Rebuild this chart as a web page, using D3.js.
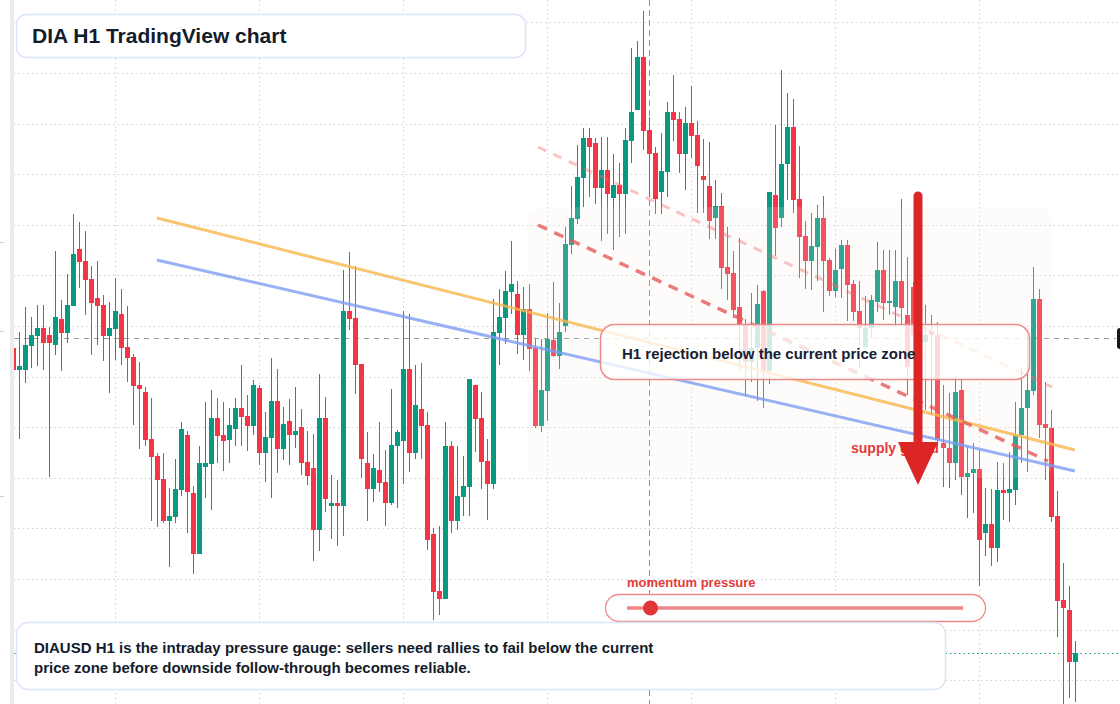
<!DOCTYPE html>
<html>
<head>
<meta charset="utf-8">
<script src="https://cdn.jsdelivr.net/npm/d3@7"></script>
<style>
  html, body { margin: 0; padding: 0; background: #fff; }
  svg { display: block; font-family: "Liberation Sans", Arial, sans-serif; }
</style>
</head>
<body>
<div id="container"></div>
<script>
// DIA hourly candles (oldest -> newest)
var opens = [
  422.6, 421.5, 421.5, 422.7, 423.2, 423.6, 423.25, 422.75, 424.05, 423.35,
  424.7, 427.55, 426.95, 426.05, 425.1, 424.75, 423.2, 423.55, 424.3, 422.65,
  422.15, 420.75, 420.4, 418.05, 417.2, 416.05, 413.95, 414.15, 415.5, 418.25,
  415.35, 412.3, 416.65, 416.8, 419.1, 418.25, 418.0, 418.55, 419.6, 419.2,
  418.7, 420.6, 417.35, 418.1, 419.95, 417.55, 418.95, 418.25, 418.65, 416.9,
  416.6, 413.5, 419.1, 414.7, 414.85, 414.7, 424.45, 424.1, 421.8, 416.85,
  415.55, 416.5, 415.9, 414.85, 417.7, 417.95, 421.55, 417.35, 419.55, 418.75,
  413.3, 410.45, 410.05, 417.7, 413.95, 415.15, 415.65, 420.75, 419.1, 416.95,
  415.8, 423.35, 424.1, 425.4, 425.3, 423.25, 424.55, 422.6, 418.7, 420.45,
  423.0, 422.2, 423.7, 427.75, 429.05, 431.1, 433.1, 432.85, 430.6, 431.5,
  430.1, 430.75, 430.3, 432.95, 434.5, 437.15, 433.5, 432.35, 430.4, 431.4,
  434.4, 434.05, 432.3, 433.85, 433.25, 431.2, 430.7, 429.1, 429.7, 426.65,
  426.35, 424.65, 423.75, 421.9, 422.6, 425.45, 421.45, 430.25, 429.1, 431.8,
  433.65, 430.05, 428.2, 426.95, 427.65, 429.1, 427.0, 425.45, 426.55, 427.75,
  425.8, 424.45, 422.65, 423.6, 424.9, 426.5, 424.85, 424.65, 425.95, 424.25,
  425.65, 423.0, 422.9, 423.45, 423.25, 417.85, 417.6, 416.85, 420.5, 416.15,
  416.35, 416.55, 413.35, 413.8, 412.6, 415.5, 415.35, 415.5, 418.25, 419.6,
  420.45, 425.05, 418.8, 418.6, 414.2, 410.0, 409.5, 406.9
];
var highs = [
  422.75, 423.4, 424.65, 424.15, 424.75, 424.75, 423.65, 427.45, 425.0, 426.3,
  429.3, 428.9, 428.45, 426.7, 426.95, 425.25, 424.9, 426.1, 425.55, 424.7,
  422.3, 421.9, 420.65, 420.1, 417.35, 417.35, 415.6, 417.05, 418.9, 418.45,
  415.7, 417.7, 419.9, 420.5, 420.1, 419.9, 419.6, 420.1, 421.75, 420.25,
  421.0, 420.75, 419.4, 422.1, 421.55, 419.65, 420.05, 420.65, 419.55, 418.45,
  418.3, 421.3, 420.15, 416.25, 416.0, 426.5, 427.4, 426.7, 421.8, 418.4,
  417.3, 418.9, 417.5, 420.55, 418.5, 424.45, 424.3, 421.75, 421.85, 419.4,
  413.6, 413.7, 418.9, 417.95, 417.7, 417.2, 421.05, 420.75, 420.4, 418.05,
  425.05, 425.55, 426.45, 427.95, 425.95, 425.65, 425.8, 423.1, 423.05, 424.35,
  425.9, 424.85, 428.65, 430.7, 432.75, 433.6, 433.6, 433.1, 433.15, 433.15,
  432.3, 431.85, 433.6, 437.6, 437.95, 439.45, 434.15, 432.65, 433.35, 434.9,
  436.25, 434.4, 434.65, 435.7, 433.95, 433.05, 432.9, 431.0, 430.35, 428.65,
  427.45, 428.1, 424.05, 425.35, 425.75, 425.5, 430.4, 433.75, 436.5, 435.35,
  435.05, 432.7, 428.95, 429.35, 429.75, 430.2, 427.1, 427.55, 428.0, 428.0,
  426.0, 425.95, 425.2, 425.25, 427.9, 427.5, 427.5, 427.5, 430.05, 427.15,
  425.9, 424.75, 424.75, 424.25, 423.9, 420.75, 420.35, 421.25, 421.0, 417.65,
  417.85, 417.5, 415.6, 415.55, 416.9, 416.85, 417.4, 419.9, 421.6, 423.25,
  426.65, 425.55, 420.9, 419.5, 415.45, 411.85, 410.7, 407.95
];
var lows = [
  421.4, 418.05, 420.85, 421.6, 421.7, 421.5, 416.15, 422.25, 421.45, 422.85,
  424.7, 425.6, 424.25, 422.25, 422.75, 421.95, 420.35, 422.0, 421.75, 420.9,
  418.75, 417.55, 417.7, 413.95, 413.65, 413.85, 411.65, 413.85, 415.2, 413.35,
  411.3, 412.3, 415.1, 414.5, 416.85, 416.45, 416.85, 417.7, 417.7, 417.45,
  418.25, 416.75, 415.9, 415.1, 416.35, 417.0, 416.75, 417.6, 416.25, 415.75,
  411.95, 412.45, 414.4, 413.05, 412.7, 413.2, 423.5, 420.3, 416.1, 413.95,
  414.9, 415.4, 413.7, 414.75, 414.6, 415.8, 416.4, 417.05, 417.05, 412.5,
  409.0, 409.25, 410.05, 413.35, 413.5, 414.2, 414.2, 417.4, 415.55, 414.0,
  415.55, 421.75, 422.8, 424.3, 422.3, 422.0, 421.45, 418.6, 418.4, 418.95,
  422.15, 421.55, 423.4, 427.3, 428.8, 429.65, 430.15, 429.8, 427.95, 428.3,
  427.5, 428.15, 428.3, 431.85, 434.5, 432.5, 430.15, 429.3, 429.3, 430.15,
  432.95, 431.35, 430.5, 432.1, 429.35, 429.35, 428.05, 428.05, 425.55, 425.0,
  424.1, 421.5, 420.2, 420.9, 419.95, 419.6, 420.8, 427.2, 428.65, 430.0,
  429.35, 426.1, 425.55, 425.5, 425.95, 424.4, 425.2, 425.15, 425.1, 423.95,
  423.95, 421.6, 422.5, 423.1, 424.4, 424.0, 424.25, 423.65, 423.65, 420.25,
  421.9, 421.75, 419.5, 419.25, 417.65, 415.65, 415.6, 416.0, 415.25, 414.1,
  414.35, 410.7, 412.2, 411.7, 411.9, 414.0, 413.9, 414.75, 416.85, 416.4,
  420.25, 418.1, 416.0, 413.9, 408.15, 404.8, 405.1, 404.9
];
var closes = [
  421.5, 421.7, 422.75, 423.25, 423.6, 422.85, 422.85, 424.15, 423.35, 424.75,
  427.3, 426.9, 426.0, 424.85, 424.7, 423.2, 423.6, 424.45, 422.6, 422.1,
  420.7, 420.55, 418.0, 417.15, 416.0, 413.95, 414.2, 415.55, 418.55, 415.4,
  412.3, 416.85, 416.85, 419.1, 418.2, 417.95, 418.75, 419.6, 419.15, 418.7,
  420.75, 417.35, 418.15, 419.95, 417.55, 418.8, 418.25, 418.45, 416.85, 416.2,
  413.5, 419.1, 415.05, 414.85, 414.7, 424.45, 424.05, 421.75, 417.05, 415.55,
  416.6, 415.85, 414.85, 417.75, 418.4, 421.55, 417.35, 419.75, 418.7, 413.0,
  410.4, 410.05, 417.7, 413.95, 415.2, 415.7, 421.05, 419.05, 416.9, 415.8,
  423.4, 424.15, 425.45, 425.8, 423.25, 424.55, 422.55, 418.7, 420.5, 423.05,
  422.2, 423.4, 427.8, 429.1, 431.15, 433.1, 432.65, 430.6, 431.5, 430.3,
  430.75, 430.3, 433.0, 434.4, 437.15, 433.45, 432.3, 430.05, 431.45, 434.4,
  434.0, 432.3, 433.85, 433.2, 431.7, 431.0, 428.95, 429.7, 426.6, 426.3,
  424.5, 423.75, 421.9, 422.6, 424.8, 421.45, 430.4, 428.6, 431.8, 433.65,
  430.0, 428.15, 426.95, 427.7, 429.1, 426.95, 425.45, 426.5, 427.75, 425.75,
  424.4, 423.6, 423.6, 425.0, 426.5, 424.85, 424.95, 425.95, 424.6, 421.65,
  423.25, 423.5, 423.25, 423.25, 418.0, 417.6, 416.85, 420.4, 416.15, 416.35,
  416.55, 413.0, 413.8, 412.6, 415.5, 415.35, 415.55, 418.25, 419.6, 420.5,
  425.05, 418.75, 418.6, 414.15, 409.95, 409.6, 406.9, 407.35
];

// grid levels (price) and vertical grid positions (bar index)
var gridLevels = [405.99, 408.52, 411.05, 413.58, 416.11, 418.64, 421.17, 423.70, 426.23, 428.76, 431.29, 433.82, 436.35, 438.88];
var timeGrid = [16.9, 40.9, 64.9, 88.9, 112.9, 136.9, 160.9];

// drawings, as [bar index, price]
var orangeTrend = [[23.9, 429.1], [176.9, 417.5]];
var blueTrend = [[23.9, 427.0], [176.9, 416.45]];
var upperDash = [[87.4, 432.65], [173.1, 420.65]];
var lowerDash = [[87.4, 428.75], [172.4, 416.95]];
var zoneBars = [85.5, 173.1];
var zonePrices = [416.1, 429.65];
var crossBar = 106, crossPrice = 423.1;
var lastPrice = 407.35;
var arrowBar = 150.75, arrowFrom = 430.2, arrowTo = 415.75;
var momentum = 0.07;

var W = 1120, H = 704;
var UP = '#089981', DOWN = '#f23645';

var svg = d3.select('#container').append('svg')
  .attr('width', W)
  .attr('height', H);

var x = d3.scaleLinear().domain([0, opens.length - 1]).range([13.5, 1075.5]);
var y = d3.scaleLinear().domain([404.8, 440]).range([H, 0]);

var candles = opens.map(function(o, i) {
  return { i: i, o: o, h: highs[i], l: lows[i], c: closes[i] };
});

svg.append('rect').attr('width', W).attr('height', H).attr('fill', '#fff');
svg.append('rect').attr('x', 10).attr('y', 0).attr('width', 4).attr('height', H).attr('fill', '#ebebeb');

// leftover axis ticks at the very left
[242, 331, 496].forEach(function(t) {
  svg.append('line').attr('x1', 0).attr('x2', 4).attr('y1', t + 0.5).attr('y2', t + 0.5)
    .attr('stroke', '#cfcfcf');
});

svg.append('clipPath').attr('id', 'plot')
  .append('rect').attr('x', 14).attr('y', 0).attr('width', W - 14).attr('height', H);

var plot = svg.append('g').attr('clip-path', 'url(#plot)');

// dotted grid
plot.selectAll('.hgrid')
  .data(gridLevels)
  .enter()
  .append('line')
  .attr('class', 'hgrid')
  .attr('x1', 14).attr('x2', W)
  .attr('y1', function(d) { return Math.round(y(d)) + 0.5; })
  .attr('y2', function(d) { return Math.round(y(d)) + 0.5; })
  .attr('stroke', '#cdd1d6')
  .attr('stroke-dasharray', '1.5,3');

plot.selectAll('.vgrid')
  .data(timeGrid)
  .enter()
  .append('line')
  .attr('class', 'vgrid')
  .attr('y1', 0).attr('y2', H)
  .attr('x1', function(d) { return Math.round(x(d)) + 0.5; })
  .attr('x2', function(d) { return Math.round(x(d)) + 0.5; })
  .attr('stroke', '#cdd1d6')
  .attr('stroke-dasharray', '1.5,3');

// crosshair
plot.append('line')
  .attr('x1', Math.floor(x(crossBar)) + 0.5).attr('x2', Math.floor(x(crossBar)) + 0.5)
  .attr('y1', 0).attr('y2', H)
  .attr('stroke', '#8f8f8f')
  .attr('stroke-dasharray', '6,4');
plot.append('line')
  .attr('x1', 14).attr('x2', 1116)
  .attr('y1', Math.round(y(crossPrice)) + 0.5).attr('y2', Math.round(y(crossPrice)) + 0.5)
  .attr('stroke', '#9a9a9a')
  .attr('stroke-dasharray', '5,5');

// last price line
plot.append('line')
  .attr('x1', 14).attr('x2', W)
  .attr('y1', Math.round(y(lastPrice)) + 0.5).attr('y2', Math.round(y(lastPrice)) + 0.5)
  .attr('stroke', UP)
  .attr('stroke-dasharray', '1.5,3');

// candles
var bars = plot.selectAll('.candle')
  .data(candles)
  .enter()
  .append('g')
  .attr('class', 'candle');

bars.append('line')
  .attr('x1', function(d) { return x(d.i); })
  .attr('x2', function(d) { return x(d.i); })
  .attr('y1', function(d) { return y(d.h); })
  .attr('y2', function(d) { return y(d.l); })
  .attr('stroke', function(d) { return d.c >= d.o ? UP : DOWN; })
  .attr('stroke-width', 1);

bars.append('rect')
  .attr('x', function(d) { return x(d.i) - 2.5; })
  .attr('width', 5)
  .attr('y', function(d) { return y(Math.max(d.o, d.c)); })
  .attr('height', function(d) { return Math.max(1.5, Math.abs(y(d.o) - y(d.c))); })
  .attr('fill', function(d) { return d.c >= d.o ? UP : DOWN; });

// supply zone wash
plot.append('rect')
  .attr('x', x(zoneBars[0]))
  .attr('y', y(zonePrices[1]))
  .attr('width', x(zoneBars[1]) - x(zoneBars[0]))
  .attr('height', y(zonePrices[0]) - y(zonePrices[1]))
  .attr('rx', 14)
  .attr('fill', '#fbeee4')
  .attr('fill-opacity', 0.16);

var seg = d3.line()
  .x(function(d) { return x(d[0]); })
  .y(function(d) { return y(d[1]); });

plot.append('path').attr('d', seg(orangeTrend))
  .attr('fill', 'none').attr('stroke', '#f8b64c').attr('stroke-opacity', 0.8).attr('stroke-width', 3);
plot.append('path').attr('d', seg(blueTrend))
  .attr('fill', 'none').attr('stroke', '#7d9df2').attr('stroke-opacity', 0.8).attr('stroke-width', 3);
plot.append('path').attr('d', seg(upperDash))
  .attr('fill', 'none').attr('stroke', '#ef6b6b').attr('stroke-opacity', 0.4)
  .attr('stroke-width', 3).attr('stroke-dasharray', '9,8');
plot.append('path').attr('d', seg(lowerDash))
  .attr('fill', 'none').attr('stroke', '#e55a5a').attr('stroke-opacity', 0.8)
  .attr('stroke-width', 3.5).attr('stroke-dasharray', '10,8');

// rejection callout box (text goes on top of the arrow)
svg.append('rect')
  .attr('x', 600.5).attr('y', 324.5).attr('width', 429).attr('height', 55).attr('rx', 14)
  .attr('fill', '#fff').attr('fill-opacity', 0.78)
  .attr('stroke', '#ec8a8a').attr('stroke-width', 1.5);

svg.append('text')
  .attr('x', 851).attr('y', 453)
  .attr('font-size', 14).attr('font-weight', 'bold').attr('fill', '#e23b3b')
  .text('supply guard');

// big arrow
var ax = x(arrowBar);
svg.append('line')
  .attr('x1', ax).attr('x2', ax)
  .attr('y1', y(arrowFrom)).attr('y2', y(arrowTo) - 44)
  .attr('stroke', '#dc2626').attr('stroke-width', 9).attr('stroke-linecap', 'round');
svg.append('path')
  .attr('d', 'M' + (ax - 20) + ',' + (y(arrowTo) - 43) + 'L' + (ax + 20) + ',' + (y(arrowTo) - 43) + 'L' + ax + ',' + y(arrowTo) + 'Z')
  .attr('fill', '#dc2626');

svg.append('text')
  .attr('x', 622).attr('y', 359)
  .attr('font-size', 15).attr('font-weight', 'bold').attr('fill', '#172033')
  .text('H1 rejection below the current price zone');

// momentum gauge
var g = d3.scaleLinear().domain([0, 1]).range([627, 963]);
svg.append('text')
  .attr('x', 627).attr('y', 587)
  .attr('font-size', 13).attr('font-weight', 'bold').attr('fill', '#e23b3b')
  .text('momentum pressure');
svg.append('rect')
  .attr('x', 605.5).attr('y', 594.5).attr('width', 380).attr('height', 27).attr('rx', 13.5)
  .attr('fill', '#fff')
  .attr('stroke', '#ee8b8b').attr('stroke-width', 1.3);
svg.append('line')
  .attr('x1', g(0)).attr('x2', g(1)).attr('y1', 608).attr('y2', 608)
  .attr('stroke', '#ec7a7a').attr('stroke-opacity', 0.9).attr('stroke-width', 3.5);
svg.append('circle')
  .attr('cx', g(momentum)).attr('cy', 608).attr('r', 7.5)
  .attr('fill', '#e03535');

// title
svg.append('rect')
  .attr('x', 16.5).attr('y', 14.5).attr('width', 509).attr('height', 43).attr('rx', 10)
  .attr('fill', '#fff').attr('stroke', '#d9e5f8').attr('stroke-width', 1.5);
svg.append('text')
  .attr('x', 32).attr('y', 43)
  .attr('font-size', 21).attr('font-weight', 'bold').attr('fill', '#131c2b')
  .text('DIA H1 TradingView chart');

// note box
svg.append('rect')
  .attr('x', 16.5).attr('y', 622.5).attr('width', 929).attr('height', 67).attr('rx', 12)
  .attr('fill', '#fff').attr('stroke', '#d9e5f8').attr('stroke-width', 1.5);
var note = svg.append('text')
  .attr('font-size', 15).attr('font-weight', 'bold').attr('fill', '#131c2b');
note.append('tspan').attr('x', 34).attr('y', 653)
  .text('DIAUSD H1 is the intraday pressure gauge: sellers need rallies to fail below the current');
note.append('tspan').attr('x', 34).attr('y', 673)
  .text('price zone before downside follow-through becomes reliable.');

// clipped price label at the right edge
svg.append('rect')
  .attr('x', 1117).attr('y', 328).attr('width', 10).attr('height', 21).attr('rx', 3)
  .attr('fill', '#131722');
</script>
</body>
</html>
